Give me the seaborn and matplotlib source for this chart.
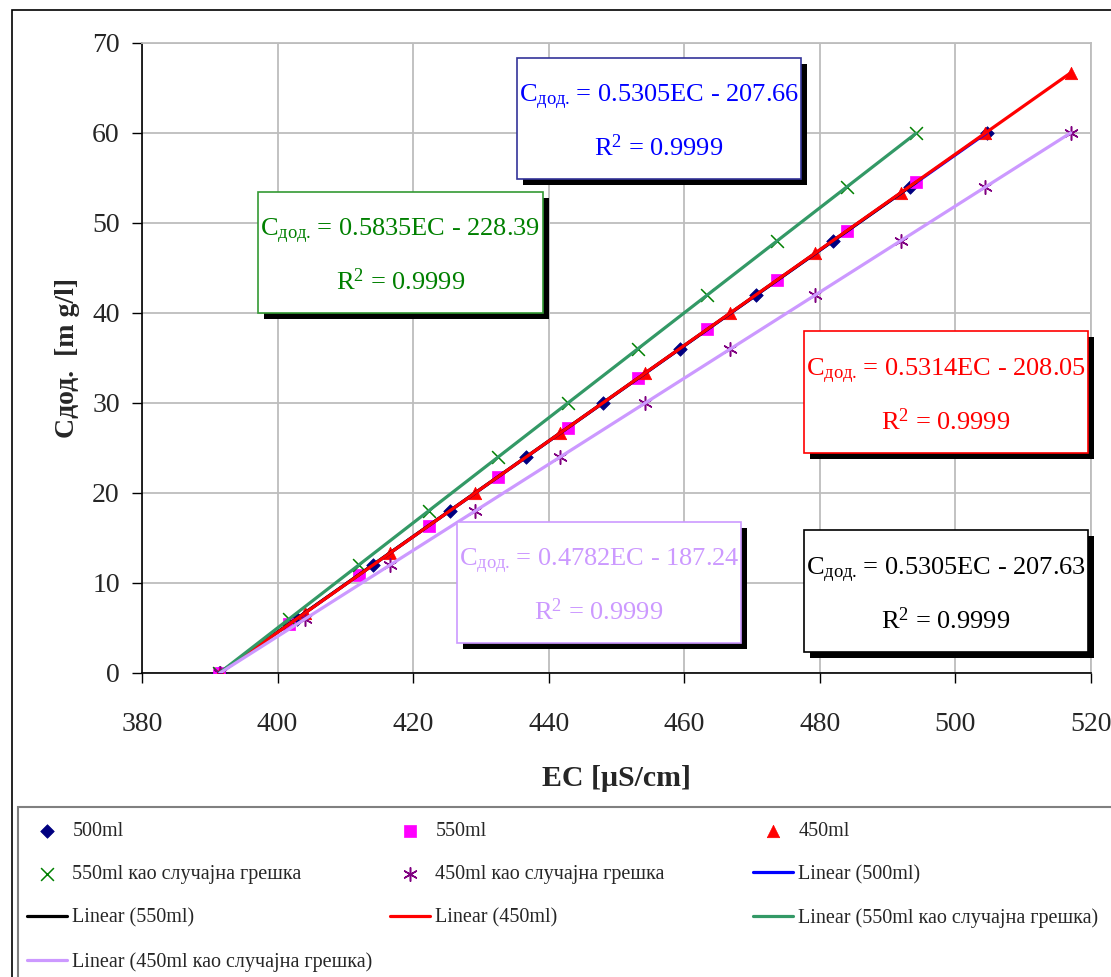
import matplotlib
matplotlib.use("Agg")
import matplotlib.pyplot as plt
import seaborn as sns
from matplotlib.patches import Rectangle

# ---------------- data ----------------
ec_500 = [391.4, 402.8, 414.1, 425.4, 436.7, 448.0, 459.3, 470.6, 481.9, 493.3, 504.6]
c_500 = [0, 6, 12, 18, 24, 30, 36, 42, 48, 54, 60]

ec_550 = [391.4, 401.7, 412.0, 422.3, 432.5, 442.8, 453.1, 463.4, 473.7, 484.0, 494.2]
c_550 = [0, 5.45, 10.91, 16.36, 21.82, 27.27, 32.73, 38.18, 43.64, 49.09, 54.55]

ec_450 = [391.5, 404.1, 416.6, 429.1, 441.7, 454.2, 466.8, 479.3, 491.9, 504.4, 517.0]
c_450 = [0, 6.67, 13.33, 20, 26.67, 33.33, 40, 46.67, 53.33, 60, 66.67]

ec_550_err = [391.4, 401.7, 412.0, 422.3, 432.5, 442.8, 453.1, 463.4, 473.7, 484.0, 494.2]
c_550_err = [0, 6, 12, 18, 24, 30, 36, 42, 48, 54, 60]

ec_450_err = [391.5, 404.1, 416.6, 429.1, 441.7, 454.2, 466.8, 479.3, 491.9, 504.4, 517.0]
c_450_err = [0, 6, 12, 18, 24, 30, 36, 42, 48, 54, 60]

x_ticks = [380, 400, 420, 440, 460, 480, 500, 520]
y_ticks = [0, 10, 20, 30, 40, 50, 60, 70]

eq_500 = ("0.5305EC - 207.66", "0.9999")
eq_550 = ("0.5305EC - 207.63", "0.9999")
eq_450 = ("0.5314EC - 208.05", "0.9999")
eq_550_err = ("0.5835EC - 228.39", "0.9999")
eq_450_err = ("0.4782EC - 187.24", "0.9999")

lab_500 = "500ml"
lab_550 = "550ml"
lab_450 = "450ml"
lab_550_err = "550ml као случајна грешка"
lab_450_err = "450ml као случајна грешка"

# ---------------- style ----------------
sns.set_style("white")
plt.rcParams['font.family'] = ['Liberation Serif', 'DejaVu Serif']
plt.rcParams['mathtext.fontset'] = 'custom'
plt.rcParams['mathtext.rm'] = 'Liberation Serif'
plt.rcParams['mathtext.it'] = 'Liberation Serif:italic'
plt.rcParams['mathtext.bf'] = 'Liberation Serif:bold'

W, H = 1111, 977
fig = plt.figure(figsize=(W / 100, H / 100), dpi=100)
fig.patch.set_facecolor("white")

def fx(px):
    return px / W

def fy(py):
    return 1 - py / H

ax = fig.add_axes([fx(142), fy(673), (1091 - 142) / W, (673 - 43) / H])

# scatter series
sns.scatterplot(x=ec_500, y=c_500, ax=ax, marker='D', color='#000080', edgecolor='#000080',
                s=48, linewidth=0.5, label=lab_500, zorder=3)
sns.scatterplot(x=ec_550, y=c_550, ax=ax, marker='s', color='#FF00FF', edgecolor='#FF00FF',
                s=65, linewidth=0.5, label=lab_550, zorder=3)
sns.scatterplot(x=ec_450, y=c_450, ax=ax, marker='^', color='#FF0000', edgecolor='#FF0000',
                s=80, linewidth=0.5, label=lab_450, zorder=3)
sns.scatterplot(x=ec_550_err, y=c_550_err, ax=ax, marker='x', color='#008000',
                s=85, linewidth=1.1, label=lab_550_err, zorder=3)
sns.scatterplot(x=ec_450_err, y=c_450_err, ax=ax, marker=(6, 2, 0), color='#800080',
                s=95, linewidth=1.1, label=lab_450_err, zorder=3)

# linear trendlines
lw = 2.3
sns.regplot(x=ec_500, y=c_500, ax=ax, scatter=False, ci=None, color='#0000FF',
            label='Linear (500ml)', line_kws={'lw': lw, 'zorder': 4})
sns.regplot(x=ec_550, y=c_550, ax=ax, scatter=False, ci=None, color='#000000',
            label='Linear (550ml)', line_kws={'lw': lw, 'zorder': 4})
sns.regplot(x=ec_450, y=c_450, ax=ax, scatter=False, ci=None, color='#FF0000',
            label='Linear (450ml)', line_kws={'lw': lw, 'zorder': 4})
sns.regplot(x=ec_550_err, y=c_550_err, ax=ax, scatter=False, ci=None, color='#339966',
            label='Linear (550ml као случајна грешка)', line_kws={'lw': lw, 'zorder': 4})
sns.regplot(x=ec_450_err, y=c_450_err, ax=ax, scatter=False, ci=None, color='#CC99FF',
            label='Linear (450ml као случајна грешка)', line_kws={'lw': lw, 'zorder': 4})

ax.set_xlim(380, 520)
ax.set_ylim(0, 70)
ax.set_xticks(x_ticks)
ax.set_yticks(y_ticks)
ax.grid(True, color='#BDBDBD', lw=1.3, zorder=0)
ax.set_axisbelow(True)
ax.tick_params(axis='both', direction='out', length=7, width=1, color='black',
               labelsize=20, bottom=True, left=True)
ax.tick_params(axis='x', pad=21)
ax.tick_params(axis='y', pad=9)
for s in ['left', 'bottom']:
    ax.spines[s].set_color('black')
    ax.spines[s].set_linewidth(1.2)
for s in ['top', 'right']:
    ax.spines[s].set_color('#BDBDBD')
    ax.spines[s].set_linewidth(1.3)

ax.set_xlabel('EC [μS/cm]', fontsize=21.5, fontweight='bold')
ax.xaxis.set_label_coords(0.5, (673 - 765) / 630)
ax.set_ylabel('Cдод.  [m g/l]', fontsize=20, fontweight='bold')
ax.yaxis.set_label_coords((80 - 142) / 949, 0.5)

# collect legend handles
handles, labels = ax.get_legend_handles_labels()
hmap = dict(zip(labels, handles))
if ax.get_legend() is not None:
    ax.get_legend().remove()

cols = [
    [lab_500, lab_550_err, 'Linear (550ml)', 'Linear (450ml као случајна грешка)'],
    [lab_550, lab_450_err, 'Linear (450ml)'],
    [lab_450, 'Linear (500ml)', 'Linear (550ml као случајна грешка)'],
]
col_x = [27, 390, 753]
for cx, col in zip(col_x, cols):
    fig.legend([hmap[l] for l in col], col, loc='upper left',
               bbox_to_anchor=(fx(cx), fy(822)), frameon=False, fontsize=14.5,
               handlelength=2.0, handletextpad=0.25, labelspacing=1.2,
               borderpad=0, borderaxespad=0, scatterpoints=1)

# legend frame
fig.add_artist(Rectangle((fx(18), fy(990)), (1130 - 18) / W, (990 - 807) / H,
                         transform=fig.transFigure, fill=False, edgecolor='#808080', lw=1.5))
# outer chart border
fig.add_artist(Rectangle((fx(12), fy(995)), (1130 - 12) / W, (995 - 10) / H,
                         transform=fig.transFigure, fill=False, edgecolor='black', lw=1.2))

# equation boxes
def eq_box(left, top, right, bottom, edge, tcolor, eq):
    sh = 6
    fig.add_artist(Rectangle((fx(left + sh), fy(bottom + sh)), (right - left) / W, (bottom - top) / H,
                             transform=fig.transFigure, facecolor='black', edgecolor='black',
                             lw=0, zorder=5))
    fig.add_artist(Rectangle((fx(left), fy(bottom)), (right - left) / W, (bottom - top) / H,
                             transform=fig.transFigure, facecolor='white', edgecolor=edge,
                             lw=1.2, zorder=6))
    cx = (left + right) / 2
    h = bottom - top
    fig.text(fx(cx), fy(top + h * 0.33), r'$\mathrm{C}_{\mathrm{дод.}}\,$= ' + eq[0],
             color=tcolor, fontsize=19, ha='center', va='center', zorder=7)
    fig.text(fx(cx), fy(top + h * 0.74), r'R$^{2}$ = ' + eq[1],
             color=tcolor, fontsize=19, ha='center', va='center', zorder=7)

eq_box(517, 58, 801, 179, '#333399', '#0000FF', eq_500)
eq_box(258, 192, 543, 313, '#339933', '#008000', eq_550_err)
eq_box(804, 331, 1088, 453, '#FF0000', '#FF0000', eq_450)
eq_box(457, 522, 741, 643, '#CC99FF', '#CC99FF', eq_450_err)
eq_box(804, 530, 1088, 652, '#000000', '#000000', eq_550)

fig.savefig("out.png", dpi=100)
